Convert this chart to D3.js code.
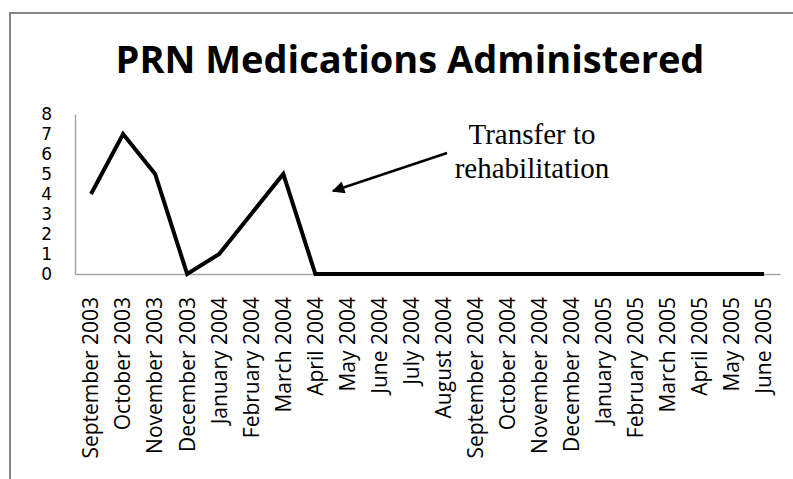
<!DOCTYPE html>
<html>
<head>
<meta charset="utf-8">
<script src="https://cdn.jsdelivr.net/npm/d3@7"></script>
<style>
  html, body { margin: 0; padding: 0; background: #fff; }
  svg { display: block; }
</style>
</head>
<body>
<svg id="chart" width="793" height="479"></svg>
<script>
// Monthly PRN medication counts
const months = [
  "September 2003", "October 2003", "November 2003", "December 2003",
  "January 2004", "February 2004", "March 2004", "April 2004",
  "May 2004", "June 2004", "July 2004", "August 2004",
  "September 2004", "October 2004", "November 2004", "December 2004",
  "January 2005", "February 2005", "March 2005", "April 2005",
  "May 2005", "June 2005"
];
const prnCounts = [4, 7, 5, 0, 1, 3, 5, 0, 0, 0, 0, 0, 0, 0, 0, 0, 0, 0, 0, 0, 0, 0];
const yTicks = [0, 1, 2, 3, 4, 5, 6, 7, 8];
const chartTitle = "PRN Medications Administered";
const noteLines = ["Transfer to", "rehabilitation"];

const svg = d3.select("#chart");
const W = 793, H = 479;
const plot = { left: 75, right: 780, top: 114, bottom: 274 };

// Frame around the chart (top and left edges visible)
svg.append("path")
  .attr("d", `M10,${H} V13 H${W}`)
  .attr("fill", "none")
  .attr("stroke", "#878787")
  .attr("stroke-width", 2);

// Title
svg.append("text")
  .attr("x", 410)
  .attr("y", 73)
  .attr("text-anchor", "middle")
  .attr("font-family", "'Open Sans', sans-serif")
  .attr("font-weight", "bold")
  .attr("font-size", 38)
  .attr("fill", "#000")
  .text(chartTitle);

const x = d3.scaleBand().domain(months).range([plot.left, plot.right]).padding(0);
const y = d3.scaleLinear().domain([0, 8]).range([plot.bottom, plot.top]);

// Y axis
const yAxis = svg.append("g")
  .attr("transform", `translate(${plot.left},0)`)
  .call(d3.axisLeft(y).tickValues(yTicks).tickSize(0).tickSizeOuter(0).tickPadding(23));
yAxis.select(".domain").attr("stroke", "#a6a6a6").attr("stroke-width", 1.5);
yAxis.selectAll("text")
  .attr("font-family", "'DejaVu Sans', sans-serif")
  .attr("font-size", 17)
  .attr("fill", "#000");

// X axis
const xAxis = svg.append("g")
  .attr("transform", `translate(0,${plot.bottom})`)
  .call(d3.axisBottom(x).tickSize(0).tickSizeOuter(0));
xAxis.select(".domain").attr("stroke", "#a6a6a6").attr("stroke-width", 1.5);
xAxis.selectAll(".tick text")
  .attr("font-family", "'Open Sans', sans-serif")
  .attr("font-size", 21)
  .attr("fill", "#000")
  .attr("text-anchor", "end")
  .attr("dy", "0.35em")
  .attr("x", 0)
  .attr("y", 0)
  .attr("transform", "translate(0,23) rotate(-90)");

// Data line
const line = d3.line()
  .x((d, i) => x(months[i]) + x.bandwidth() / 2)
  .y(d => y(d));
svg.append("path")
  .datum(prnCounts)
  .attr("d", line)
  .attr("fill", "none")
  .attr("stroke", "#000")
  .attr("stroke-width", 4)
  .attr("stroke-linejoin", "miter");

// Annotation
svg.append("defs").append("marker")
  .attr("id", "arrowhead")
  .attr("viewBox", "0 0 10 10")
  .attr("refX", 9)
  .attr("refY", 5)
  .attr("markerWidth", 6)
  .attr("markerHeight", 5)
  .attr("orient", "auto")
  .attr("markerUnits", "strokeWidth")
  .append("path")
  .attr("d", "M0,0 L10,5 L0,10 Z")
  .attr("fill", "#000");

svg.append("line")
  .attr("x1", 447).attr("y1", 153)
  .attr("x2", 333).attr("y2", 191)
  .attr("stroke", "#000")
  .attr("stroke-width", 2.5)
  .attr("marker-end", "url(#arrowhead)");

const note = svg.append("text")
  .attr("text-anchor", "middle")
  .attr("font-family", "'Liberation Serif', 'Times New Roman', serif")
  .attr("font-size", 29)
  .attr("fill", "#000");
noteLines.forEach((t, i) => {
  note.append("tspan").attr("x", 532).attr("y", 144 + i * 34).text(t);
});
</script>
</body>
</html>
